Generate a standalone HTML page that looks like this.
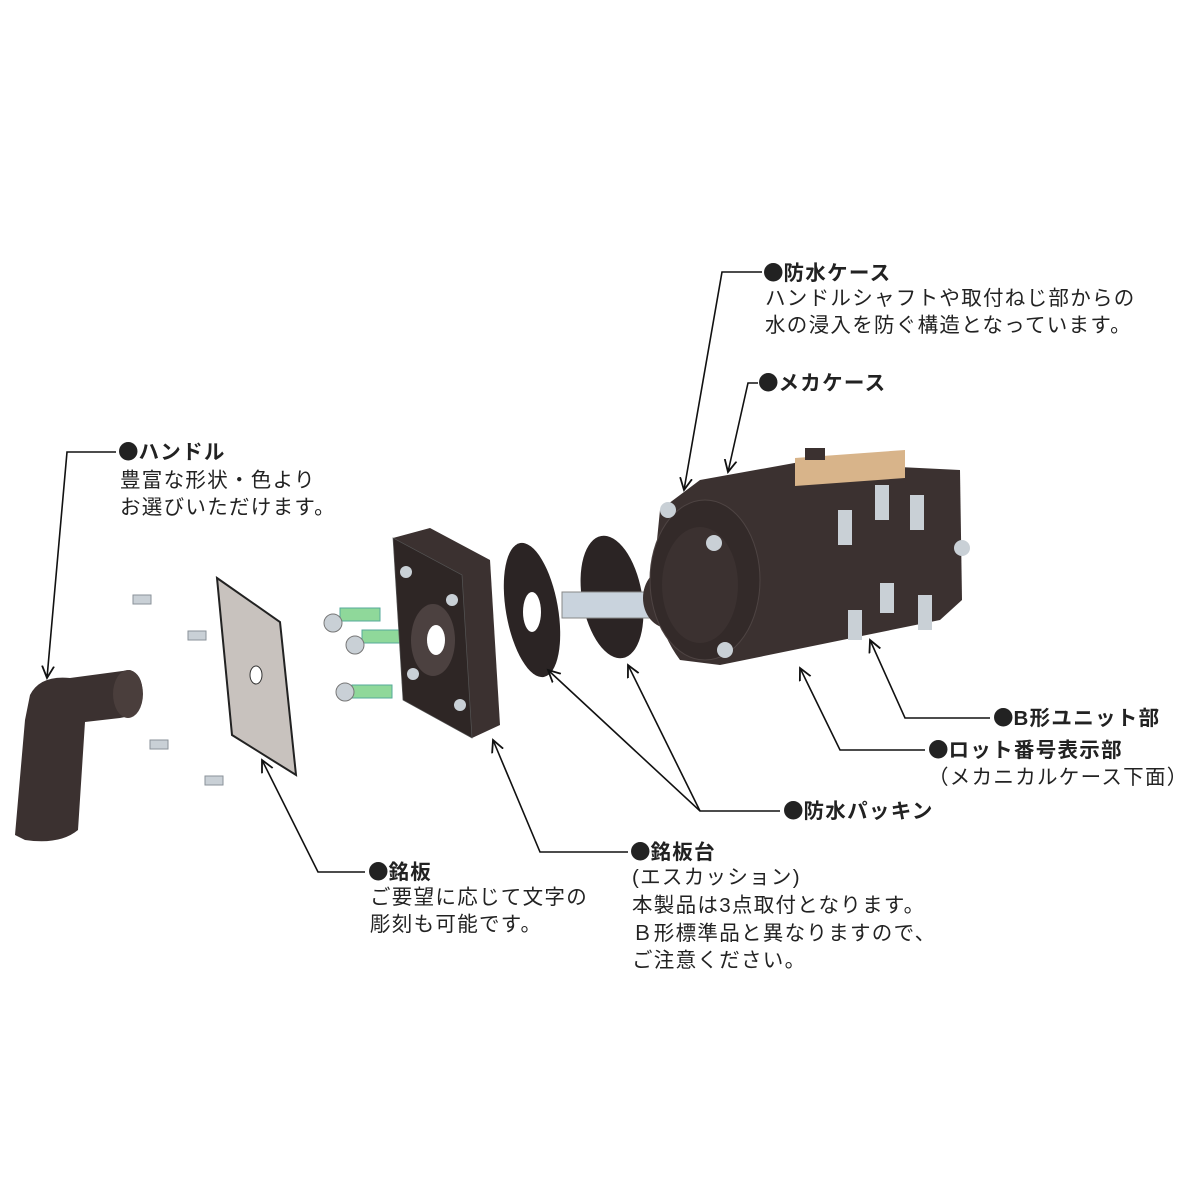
<!DOCTYPE html>
<html><head><meta charset="utf-8"><style>
body{margin:0;background:#fff;}
svg{display:block}
text{font-family:"Liberation Sans","Noto Sans CJK JP",sans-serif;font-size:20.5px;letter-spacing:1.3px;fill:#222}
.b{font-weight:bold}
.d{font-family:"Noto Sans CJK JP",sans-serif;letter-spacing:0}
</style></head><body>
<svg width="1200" height="1200" viewBox="0 0 1200 1200">
<defs><marker id="a" markerWidth="14" markerHeight="14" refX="12" refY="7" orient="auto" markerUnits="userSpaceOnUse"><path d="M0,1 L12,7 L0,13" fill="none" stroke="#111" stroke-width="1.8"/></marker></defs>

<!-- handle -->
<path d="M30,695 Q40,675 70,678 L130,670 Q145,675 142,700 Q140,715 120,718 L85,722 L78,830 Q60,845 25,840 L15,835 L25,720 Z" fill="#3b3130"/>
<ellipse cx="128" cy="694" rx="15" ry="24" fill="#4a3e3c"/>
<g fill="#c9d0d6" stroke="#8a9299">
<rect x="133" y="595" width="18" height="9"/><rect x="188" y="631" width="18" height="9"/>
<rect x="150" y="740" width="18" height="9"/><rect x="205" y="776" width="18" height="9"/>
</g>
<path d="M217,578 L280,622 L296,775 L232,735 Z" fill="#c8c2be" stroke="#222" stroke-width="2"/>
<ellipse cx="256" cy="675" rx="6" ry="9" fill="#fff" stroke="#333"/>
<g fill="#8fd89a" stroke="#5a9"><rect x="340" y="608" width="40" height="13"/><rect x="362" y="630" width="40" height="13"/><rect x="352" y="685" width="40" height="13"/></g>
<g fill="#c9d0d6" stroke="#777"><circle cx="333" cy="623" r="9"/><circle cx="355" cy="645" r="9"/><circle cx="345" cy="692" r="9"/></g>
<path d="M393,538 L430,528 L490,560 L500,725 L472,738 L403,700 Z" fill="#3b3130"/>
<path d="M393,538 L403,700 L472,738 L462,575 Z" fill="#2e2625" stroke="#555" stroke-width="0.7"/>
<ellipse cx="433" cy="640" rx="22" ry="36" fill="#4c4140"/><ellipse cx="436" cy="640" rx="9" ry="15" fill="#fff"/>
<g fill="#c9d0d6"><circle cx="406" cy="572" r="6"/><circle cx="452" cy="600" r="6"/><circle cx="413" cy="674" r="6"/><circle cx="460" cy="705" r="6"/></g>
<ellipse cx="532" cy="610" rx="26" ry="68" transform="rotate(-10 532 610)" fill="#2b2424"/><ellipse cx="532" cy="612" rx="9" ry="20" fill="#fff"/>
<ellipse cx="612" cy="597" rx="30" ry="62" transform="rotate(-10 612 597)" fill="#2b2424"/>
<rect x="562" y="592" width="90" height="26" fill="#c9d3dd" stroke="#888"/>
<ellipse cx="668" cy="598" rx="25" ry="30" fill="#3b3130"/>
<path d="M660,510 L700,480 L800,462 L960,470 L962,600 L940,620 L720,665 L680,660 Q650,620 655,560 Z" fill="#3b3130"/>
<ellipse cx="705" cy="580" rx="55" ry="80" fill="#332a29" stroke="#4e4443"/>
<ellipse cx="700" cy="585" rx="38" ry="58" fill="#3b3130"/>
<path d="M795,458 L905,450 L905,478 L795,486 Z" fill="#d8b48a"/>
<rect x="805" y="448" width="20" height="12" fill="#3b3130"/>
<g fill="#c9d0d6"><rect x="838" y="510" width="14" height="35"/><rect x="875" y="485" width="14" height="35"/><rect x="910" y="495" width="14" height="35"/><rect x="848" y="610" width="14" height="30"/><rect x="880" y="583" width="14" height="30"/><rect x="918" y="595" width="14" height="35"/>
<circle cx="668" cy="510" r="8"/><circle cx="714" cy="543" r="8"/><circle cx="725" cy="650" r="8"/><circle cx="962" cy="548" r="8"/></g>

<g fill="none" stroke="#111" stroke-width="1.6">
<path d="M762,272 L722,272 L684,490" marker-end="url(#a)"/>
<path d="M758,383 L748,383 L728,472" marker-end="url(#a)"/>
<path d="M116,452 L67,452 L47,678" marker-end="url(#a)"/>
<path d="M365,872 L318,872 L262,760" marker-end="url(#a)"/>
<path d="M628,852 L540,852 L493,740" marker-end="url(#a)"/>
<path d="M780,811 L700,811 L548,670" marker-end="url(#a)"/>
<path d="M700,811 L628,665" marker-end="url(#a)"/>
<path d="M990,718 L905,718 L870,640" marker-end="url(#a)"/>
<path d="M925,750 L840,750 L800,668" marker-end="url(#a)"/>
</g>

<text x="763" y="280" class="b"><tspan class="d">●</tspan>防水ケース</text>
<text x="765" y="305">ハンドルシャフトや取付ねじ部からの</text>
<text x="765" y="332">水の浸入を防ぐ構造となっています。</text>
<text x="758" y="390" class="b"><tspan class="d">●</tspan>メカケース</text>
<text x="118" y="459" class="b"><tspan class="d">●</tspan>ハンドル</text>
<text x="120" y="487">豊富な形状・色より</text>
<text x="120" y="514">お選びいただけます。</text>
<text x="993" y="725" class="b"><tspan class="d">●</tspan>B形ユニット部</text>
<text x="928" y="757" class="b"><tspan class="d">●</tspan>ロット番号表示部</text>
<text x="928" y="784">（メカニカルケース下面）</text>
<text x="783" y="818" class="b"><tspan class="d">●</tspan>防水パッキン</text>
<text x="368" y="879" class="b"><tspan class="d">●</tspan>銘板</text>
<text x="370" y="904">ご要望に応じて文字の</text>
<text x="370" y="931">彫刻も可能です。</text>
<text x="630" y="859" class="b"><tspan class="d">●</tspan>銘板台</text>
<text x="632" y="884">(エスカッション)</text>
<text x="632" y="912">本製品は3点取付となります。</text>
<text x="632" y="940">Ｂ形標準品と異なりますので、</text>
<text x="632" y="967">ご注意ください。</text>
</svg>
</body></html>
